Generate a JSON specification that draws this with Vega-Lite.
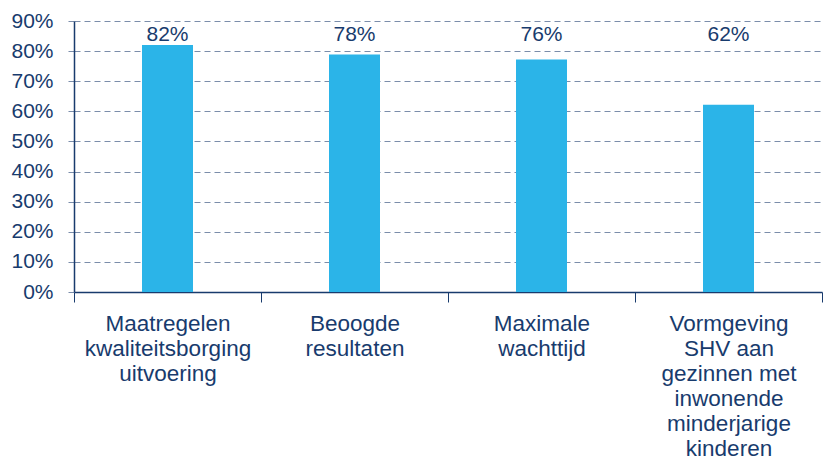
{
  "$schema": "https://vega.github.io/schema/vega-lite/v6.json",
  "autosize": "none",
  "padding": {"left": 74, "top": 21, "right": 1, "bottom": 167},
  "width": 748,
  "height": 271,
  "background": "white",
  "config": {
    "view": {"stroke": null},
    "font": "Liberation Sans",
    "axis": {"labelFont": "Liberation Sans", "labelColor": "#183b6d"}
  },
  "data": {
    "values": [
      {"category": "Maatregelen|kwaliteitsborging|uitvoering", "value": 0.82, "label": "82%"},
      {"category": "Beoogde|resultaten", "value": 0.789, "label": "78%"},
      {"category": "Maximale|wachttijd", "value": 0.772, "label": "76%"},
      {"category": "Vormgeving|SHV aan|gezinnen met|inwonende|minderjarige|kinderen", "value": 0.622, "label": "62%"}
    ]
  },
  "encoding": {
    "x": {
      "field": "category",
      "type": "nominal",
      "sort": null,
      "title": null,
      "scale": {"paddingInner": 0, "paddingOuter": 0},
      "axis": {
        "labelAngle": 0,
        "labelExpr": "split(datum.label, '|')",
        "labelFontSize": 22.5,
        "labelLineHeight": 25,
        "labelBaseline": "top",
        "labelPadding": 10,
        "tickBand": "extent",
        "tickSize": 10,
        "tickColor": "#183b6d",
        "domainColor": "#183b6d",
        "domainWidth": 1.5,
        "labelLimit": 300
      }
    },
    "y": {
      "field": "value",
      "type": "quantitative",
      "title": null,
      "scale": {"domain": [0, 0.9], "nice": false},
      "axis": {
        "format": ".0%",
        "values": [0, 0.1, 0.2, 0.3, 0.4, 0.5, 0.6, 0.7, 0.8, 0.9],
        "labelFontSize": 21,
        "grid": true,
        "gridColor": "#7b8daa",
        "gridDash": [6, 4],
        "gridWidth": 1.2,
        "tickColor": "#7b8daa",
        "tickDash": [6, 4],
        "tickSize": 7,
        "labelPadding": 14,
        "domainColor": "#183b6d",
        "domainWidth": 1.5
      }
    }
  },
  "layer": [
    {
      "mark": {"type": "bar", "color": "#2bb4e8", "size": 51}
    },
    {
      "mark": {"type": "text", "baseline": "middle", "fontSize": 21, "color": "#183b6d"},
      "encoding": {
        "y": {"datum": 0.855, "type": "quantitative"},
        "text": {"field": "label"}
      }
    }
  ]
}
